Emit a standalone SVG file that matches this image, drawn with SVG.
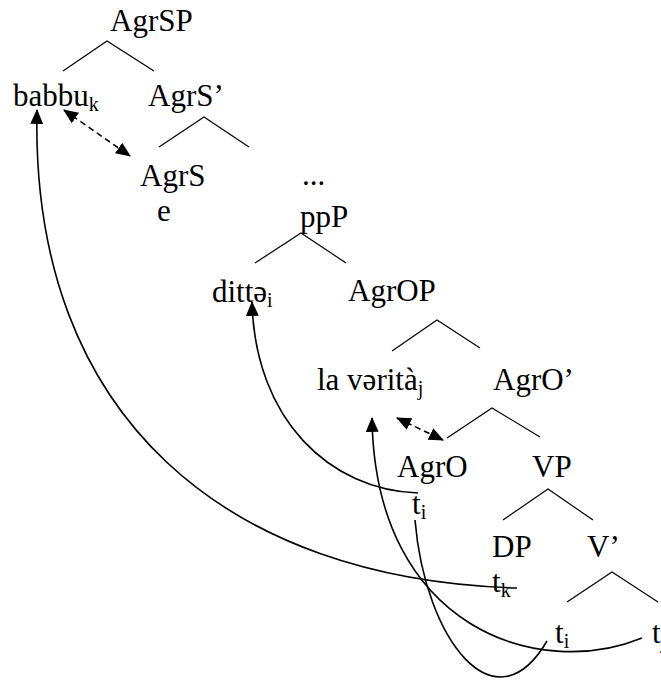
<svg xmlns="http://www.w3.org/2000/svg" width="661" height="686" viewBox="0 0 661 686">
<style>
text{font-family:"Liberation Serif","Times New Roman",serif;font-size:31px;fill:#000}
.sub{font-size:20px}
.br{stroke:#000;stroke-width:1.2;fill:none}
.mv{stroke:#000;stroke-width:1.6;fill:none}
.ds{stroke:#000;stroke-width:1.6;fill:none;stroke-dasharray:6 4}
</style>
<defs>
<marker id="ah" viewBox="0 0 14 12" refX="13" refY="6" markerWidth="15" markerHeight="13" markerUnits="userSpaceOnUse" orient="auto-start-reverse">
<path d="M0,0 L14,6 L0,12 z" fill="#000"/>
</marker>
</defs>
<rect width="661" height="686" fill="#fff"/>
<g id="branches">
<path class="br" d="M63,71 L107,41 L154,71"/>
<path class="br" d="M159,147 L204,117 L249,147"/>
<path class="br" d="M255,263 L301,233 L346,263"/>
<path class="br" d="M392,351 L437,320 L480,348"/>
<path class="br" d="M447,438 L492,408 L540,437"/>
<path class="br" d="M503,520 L548,489 L593,520"/>
<path class="br" d="M567,602 L612,572 L658,602"/>
</g>
<g id="n-agrsp"><text x="110" y="31">AgrSP</text></g>
<g id="n-babbu"><text x="13" y="106">babbu<tspan class="sub" dy="5">k</tspan></text></g>
<g id="n-agrs-bar"><text x="148" y="106">AgrS’</text></g>
<g id="n-agrs"><text x="140" y="186">AgrS</text></g>
<g id="n-e"><text x="157" y="221">e</text></g>
<g id="n-dots"><text x="302" y="185">...</text></g>
<g id="n-ppp"><text x="300" y="227">ppP</text></g>
<g id="n-ditte"><text x="212" y="302">dittə<tspan class="sub" dy="5">i</tspan></text></g>
<g id="n-agrop"><text x="348" y="301">AgrOP</text></g>
<g id="n-verita"><text x="317" y="390">la vərità<tspan class="sub" dy="5">j</tspan></text></g>
<g id="n-agro-bar"><text x="493" y="390">AgrO’</text></g>
<g id="n-agro"><text x="397" y="477">AgrO</text></g>
<g id="n-vp"><text x="532" y="477">VP</text></g>
<g id="n-ti1"><text x="412" y="514">t<tspan class="sub" dy="5">i</tspan></text></g>
<g id="n-dp"><text x="492" y="557">DP</text></g>
<g id="n-vbar"><text x="587" y="557">V’</text></g>
<g id="n-tk"><text x="492" y="592">t<tspan class="sub" dy="5">k</tspan></text></g>
<g id="n-ti2"><text x="555" y="643">t<tspan class="sub" dy="5">i</tspan></text></g>
<g id="n-tj"><text x="652" y="643">t<tspan class="sub" dy="5">j</tspan></text></g>
<g id="connectors">
<path class="ds" d="M64,110 L130,156" marker-start="url(#ah)" marker-end="url(#ah)"/>
<path class="ds" d="M397,418 L443,440" marker-start="url(#ah)" marker-end="url(#ah)"/>
<path class="mv" d="M517,588 C230,580 30,420 37,110" marker-end="url(#ah)"/>
<path class="mv" d="M418,493 C330,490 255,420 252,302" marker-end="url(#ah)"/>
<path class="mv" d="M642,638 C540,680 375,630 372,418" marker-end="url(#ah)"/>
<path class="mv" d="M415,520 C425,640 495,730 547,641"/>
</g>
</svg>
